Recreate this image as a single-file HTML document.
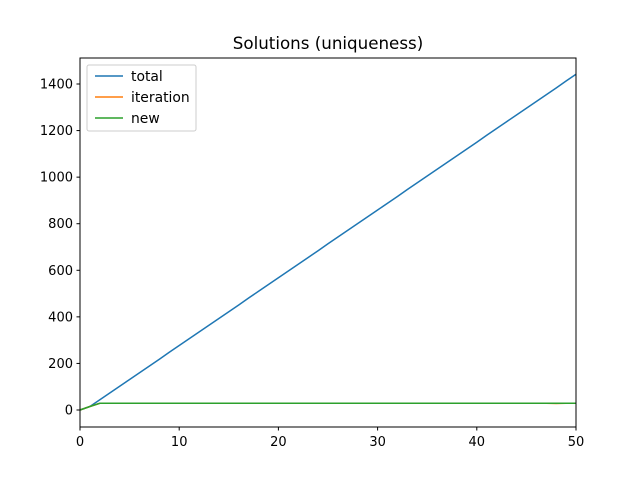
<!DOCTYPE html>
<html><head><meta charset="utf-8"><style>
body{margin:0;background:#fff;}
svg text{font-family:"DejaVu Sans","Liberation Sans",sans-serif;}
</style></head><body>
<svg id="chart" width="640" height="480" xmlns="http://www.w3.org/2000/svg">
<rect width="640" height="480" fill="#fff"/>
<text x="328" y="49" font-size="16.7" text-anchor="middle">Solutions (uniqueness)</text>
<g id="plot"></g>
<rect x="80" y="58" width="496" height="369" fill="none" stroke="#000" stroke-width="1"/>
<g>
<rect x="87" y="65" width="109" height="66" rx="2" fill="#fff" fill-opacity="0.8" stroke="#ccc"/>
<g><line x1="95" y1="76" x2="123" y2="76" stroke="#1f77b4" stroke-width="1.5"/><text x="131" y="81" font-size="13.9">total</text></g>
<g><line x1="95" y1="97" x2="123" y2="97" stroke="#ff7f0e" stroke-width="1.5"/><text x="131" y="102" font-size="13.9">iteration</text></g>
<g><line x1="95" y1="118" x2="123" y2="118" stroke="#2ca02c" stroke-width="1.5"/><text x="131" y="123" font-size="13.9">new</text></g>
</g>
</svg>
<script>
const totalValues=[0,15,44,73,102,131,160,189,218,248,277,306,335,364,393,422,451,481,510,539,568,597,626,655,684,714,743,772,801,830,859,888,917,947,976,1005,1034,1063,1092,1121,1150,1180,1209,1238,1267,1296,1325,1354,1383,1413,1442];
const iterationValues=[0,15,29,29,29,29,29,29,29,29,29,29,29,29,29,29,29,29,29,29,29,29,29,29,29,29,29,29,29,29,29,29,29,29,29,29,29,29,29,29,29,29,29,29,29,29,29,29,28,29,29];
const newValues=[0,15,29,29,29,29,29,29,29,29,29,29,29,29,29,29,29,29,29,29,29,29,29,29,29,29,29,29,29,29,29,29,29,29,29,29,29,29,29,29,29,29,29,29,29,29,29,29,29,29,29];
const xTicks=[0,10,20,30,40,50];
const yTicks=[0,200,400,600,800,1000,1200,1400];
const NS="http://www.w3.org/2000/svg";
const xs=v=>80+v*496/50;
const ys=v=>410-v*326/1400;
const g=document.getElementById('plot');
function mk(t,a){const e=document.createElementNS(NS,t);for(const k in a)e.setAttribute(k,a[k]);g.appendChild(e);return e;}
xTicks.forEach(t=>{
  const l=mk('line',{x1:xs(t),x2:xs(t),y1:427,y2:430.5,stroke:'#000'});
  
  
  const tx=mk('text',{x:xs(t),y:446,'font-size':'13','text-anchor':'middle'});tx.textContent=t;
  
  
});
yTicks.forEach(t=>{
  const l=mk('line',{x1:76.5,x2:80,y1:ys(t),y2:ys(t),stroke:'#000'});
  
  
  const tx=mk('text',{x:73,y:ys(t)+4.5,'font-size':'13','text-anchor':'end'});tx.textContent=t;
  
  
});
function line(vals,color,name){
  const p=mk('polyline',{points:vals.map((v,i)=>xs(i)+','+ys(v)).join(' '),fill:'none',stroke:color,'stroke-width':'1.5'});
  
  
}
line(totalValues,'#1f77b4','total-line');
line(iterationValues,'#ff7f0e','iteration-line');
line(newValues,'#2ca02c','new-line');
</script>
</body></html>
